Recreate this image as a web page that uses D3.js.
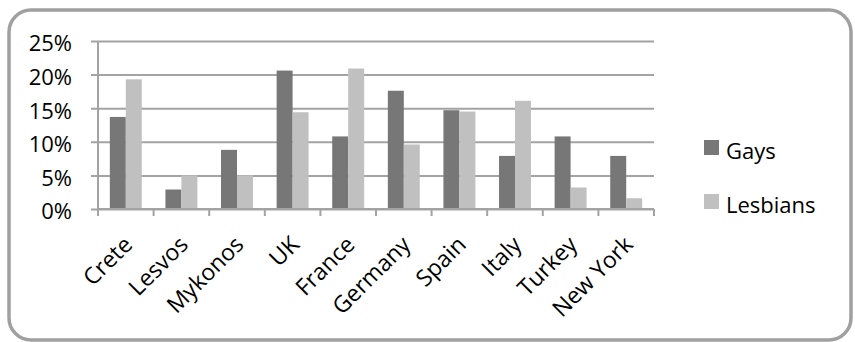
<!DOCTYPE html>
<html>
<head>
<meta charset="utf-8">
<script src="https://cdn.jsdelivr.net/npm/d3@7"></script>
<style>
  html, body { margin: 0; padding: 0; background: #fff; }
  svg { display: block; }
  text { font-family: "Open Sans", "Noto Sans", sans-serif; fill: #000; }
</style>
</head>
<body>
<svg id="chart" width="855" height="342"></svg>
<script>
const categories = ["Crete", "Lesvos", "Mykonos", "UK", "France", "Germany", "Spain", "Italy", "Turkey", "New York"];
const seriesNames = ["Gays", "Lesbians"];
const gays     = [0.137, 0.029, 0.088, 0.206, 0.108, 0.176, 0.147, 0.079, 0.108, 0.079];
const lesbians = [0.193, 0.050, 0.050, 0.144, 0.209, 0.096, 0.145, 0.161, 0.032, 0.016];
const yTicks = [0, 0.05, 0.10, 0.15, 0.20, 0.25];
const seriesColors = ["#777777", "#c0c0c0"];

const seriesValues = [gays, lesbians];
const svg = d3.select("#chart");

// Outer rounded frame
svg.append("rect")
  .attr("x", 9).attr("y", 10)
  .attr("width", 842).attr("height", 330)
  .attr("rx", 22).attr("ry", 22)
  .attr("fill", "#fff")
  .attr("stroke", "#a0a0a0")
  .attr("stroke-width", 3.5);

const plot = { left: 98, right: 654, top: 41, bottom: 209 };

const x0 = d3.scaleBand().domain(categories).range([plot.left, plot.right]).paddingInner(0).paddingOuter(0);
const x1 = d3.scaleBand().domain(seriesNames).range([0, x0.bandwidth()]).paddingInner(0).paddingOuter(0.74);
const y = d3.scaleLinear().domain([0, 0.25]).range([plot.bottom, plot.top]);

// Gridlines + y axis
const yAxis = d3.axisLeft(y).tickValues(yTicks)
  .tickSize(-(plot.right - plot.left))
  .tickPadding(0)
  .tickFormat(d3.format(".0%"));
const gy = svg.append("g").attr("transform", `translate(${plot.left},0)`).call(yAxis);
gy.select(".domain").remove();
gy.selectAll(".tick line")
  .attr("x1", -7)
  .attr("stroke", "#a3a3a3").attr("stroke-width", 2);
gy.selectAll(".tick text")
  .attr("x", -26).attr("dy", "0.45em")
  .style("font-size", "22px")
  .style("font-family", "'Open Sans', sans-serif")
  .attr("fill", "#000");

// Bars
const groups = svg.append("g").selectAll("g")
  .data(categories)
  .join("g")
  .attr("transform", d => `translate(${x0(d)},0)`);
groups.selectAll("rect")
  .data((c, i) => seriesNames.map((s, k) => ({ s, v: seriesValues[k][i], k })))
  .join("rect")
  .attr("x", d => x1(d.s))
  .attr("width", x1.bandwidth())
  .attr("y", d => y(d.v))
  .attr("height", d => y(0) - y(d.v))
  .attr("fill", d => seriesColors[d.k]);

// X axis line with ticks at category boundaries
const boundaries = categories.map(c => x0(c)).concat([plot.right]);
const gx = svg.append("g");
gx.append("line")
  .attr("x1", plot.left).attr("x2", plot.right)
  .attr("y1", y(0)).attr("y2", y(0))
  .attr("stroke", "#a3a3a3").attr("stroke-width", 2);
gx.selectAll("line.tk").data(boundaries).join("line")
  .attr("class", "tk")
  .attr("x1", d => d).attr("x2", d => d)
  .attr("y1", y(0)).attr("y2", y(0) + 7)
  .attr("stroke", "#a3a3a3").attr("stroke-width", 2);
// Y axis vertical line
svg.append("line")
  .attr("x1", plot.left).attr("x2", plot.left)
  .attr("y1", plot.top).attr("y2", plot.bottom)
  .attr("stroke", "#a3a3a3").attr("stroke-width", 2);

// Rotated category labels
gx.selectAll("text.cat").data(categories).join("text")
  .attr("class", "cat")
  .attr("text-anchor", "end")
  .style("font-size", "23px")
  .attr("transform", d => `translate(${x0(d) + x0.bandwidth() / 2 + 8},${y(0) + 37}) rotate(-45)`)
  .text(d => d);

// Legend
const legend = svg.append("g");
const legendY = [147.5, 201.5];
seriesNames.forEach((s, k) => {
  legend.append("rect")
    .attr("x", 704).attr("y", legendY[k] - 7.5)
    .attr("width", 15).attr("height", 15)
    .attr("fill", seriesColors[k]);
  legend.append("text")
    .attr("x", 726).attr("y", legendY[k] + 11)
    .style("font-size", "22px")
    .text(s);
});
</script>
</body>
</html>
